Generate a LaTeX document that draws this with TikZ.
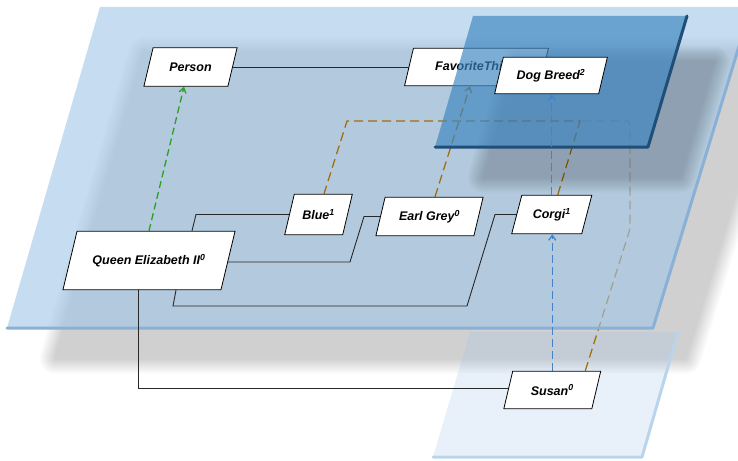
\documentclass[tikz,border=0pt]{standalone}
\usepackage{fontspec}
\setmainfont{Liberation Sans}
\usetikzlibrary{arrows.meta}

\definecolor{planeblue}{RGB}{160,197,230}
\definecolor{planeedge}{RGB}{138,176,214}
\definecolor{lowedge}{RGB}{186,212,236}
\definecolor{deepblue}{RGB}{61,134,193}
\definecolor{deepedge}{RGB}{31,78,121}
\definecolor{linkgreen}{RGB}{45,160,35}
\definecolor{linkbrown}{RGB}{160,108,15}
\definecolor{linkblue}{RGB}{68,130,200}
\definecolor{wire}{RGB}{40,40,40}

\pgfdeclarelayer{floor}
\pgfdeclarelayer{sheet}
\pgfdeclarelayer{wires}
\pgfdeclarelayer{cards}
\pgfdeclarelayer{upper}
\pgfdeclarelayer{upperwires}
\pgfdeclarelayer{uppercards}
\pgfdeclarelayer{uppertext}
\pgfsetlayers{floor,sheet,wires,cards,main,upper,upperwires,uppercards,uppertext}

\newcommand\cardfont{\fontsize{12.5}{15}\selectfont\bfseries\itshape}

% blurred shadow: stacked translucent copies with growing outline
\newcommand\softshadow[2]{%
  \foreach \r in {2,4,...,32}{%
    \begin{scope}[transparency group, opacity=#2]
      \filldraw[black, line width=\r pt, line join=round] #1;
    \end{scope}}}

% slanted card outline around a named node
\newcommand\cardshape[2]{%
  \filldraw[fill=white, draw=black, line width=0.8pt, line join=miter]
    ([xshift=#2, yshift=-0.4pt]#1.north west) -- ([xshift=-0.4pt, yshift=-0.4pt]#1.north east)
    -- ([xshift=-#2, yshift=0.4pt]#1.south east) -- ([xshift=0.4pt, yshift=0.4pt]#1.south west) -- cycle;}

\tikzset{
  card/.style 2 args={rectangle, inner sep=0pt, minimum width=#1, minimum height=#2, font=\cardfont},
  wireline/.style={draw=wire, line width=0.9pt},
  tip/.style={-{Straight Barb[length=5pt,width=7pt]}},
  greenlink/.style={draw=linkgreen, line width=1.3pt, dash pattern=on 7pt off 4pt, tip},
  brownlink/.style={draw=linkbrown, line width=1.25pt, dash pattern=on 9pt off 5pt},
  bluelink/.style={draw=linkblue, line width=1.3pt, dash pattern=on 8pt off 4pt, tip},
}

\begin{document}
\begin{tikzpicture}[x=1pt, y=-1pt]
\useasboundingbox (0,0) rectangle (738,460);

% ---- cards on the large plane
\node[card={93.6pt}{39pt}]  (person) at (190.5,67)   {Person};
\node[card={144.3pt}{38pt}] (fav)    at (476.5,67)   {FavoriteThing};
\node[card={68pt}{41pt}]    (blue)   at (318.5,214.5) {Blue\textsuperscript{1}};
\node[card={107.6pt}{39pt}] (earl)   at (429.5,216.5) {Earl Grey\textsuperscript{0}};
\node[card={80.5pt}{39pt}]  (corgi)  at (551.75,214.5) {Corgi\textsuperscript{1}};
\node[card={172.5pt}{59pt}] (queen)  at (149,260.5)  {Queen Elizabeth II\textsuperscript{0}};

% ---- cards above and below
\begin{pgfonlayer}{uppertext}
\node[card={113.1pt}{37pt}] (dog)   at (551,75.5)  {Dog Breed\textsuperscript{2}};
\node[card={97.3pt}{38pt}]  (susan) at (552.25,390) {Susan\textsuperscript{0}};
\end{pgfonlayer}

\begin{pgfonlayer}{cards}
\cardshape{person}{9.6pt}
\cardshape{fav}{9.3pt}
\cardshape{blue}{10pt}
\cardshape{earl}{9.6pt}
\cardshape{corgi}{10.5pt}
\cardshape{queen}{14.5pt}
\end{pgfonlayer}

\begin{pgfonlayer}{uppercards}
\cardshape{dog}{9.1pt}
\cardshape{susan}{9.3pt}
\end{pgfonlayer}

% ---- bottom: shadow of the large plane, the lower plane
\begin{pgfonlayer}{floor}
\softshadow{(144.2,53) -- (778.5,53) -- (685.4,358) -- (55.7,358) -- cycle}{0.0101}
\fill[planeblue, fill opacity=0.24] (470,332) -- (678,332) -- (642,457) -- (433,457) -- cycle;
\draw[lowedge, line width=3pt, line cap=round, line join=round] (678,332) -- (642,457) -- (433,457);
\coordinate (junction) at (580,121);
\draw[brownlink, rounded corners=3pt] ([xshift=33pt]susan.north) -- (630,229) -- (630,121) -- (junction);
\end{pgfonlayer}

% ---- the large plane
\begin{pgfonlayer}{sheet}
\fill[planeblue, fill opacity=0.6] (100,7) -- (751,7) -- (653,328) -- (7,328) -- cycle;
\draw[planeedge, line width=3pt, line cap=round, line join=round] (751,7) -- (653,328) -- (7,328);
\end{pgfonlayer}

% ---- connectors on the large plane
\begin{pgfonlayer}{wires}
\draw[wireline] (person.center) -- (fav.center);
\draw[wireline] ([xshift=43pt]queen.north) -- (196,214.5) -- (blue.center);
\draw[wireline] ([yshift=-1.5pt]queen.center) -- (350,262) -- (364,216.5) -- (earl.center);
\draw[wireline] ([xshift=27pt]queen.south) -- (173,306) -- (467,306) -- (495,214.5) -- (corgi.center);
\draw[wireline] ([xshift=-11pt]queen.south) -- (138,388) -- ([yshift=2pt]susan.center);
\draw[greenlink] (queen.north) -- ([xshift=-6.5pt]person.south);
\draw[brownlink, tip] ([xshift=5.5pt]earl.north) -- ([xshift=-6.5pt]fav.south);
\draw[brownlink] ([xshift=6pt]corgi.north) -- (junction) -- (347,121) -- ([xshift=5.5pt]blue.north);
\end{pgfonlayer}

% ---- the upper plane and its shadow
\begin{pgfonlayer}{upper}
\softshadow{(517,62) -- (714,62) -- (680,177) -- (483.7,177) -- cycle}{0.0116}
\fill[deepblue, fill opacity=0.67] (473,16) -- (687,16) -- (648,147) -- (435,147) -- cycle;
\draw[deepedge, line width=3pt, line cap=round, line join=round] (687,16) -- (648,147) -- (435,147);
\end{pgfonlayer}

% ---- instance links
\begin{pgfonlayer}{upperwires}
\draw[bluelink] (corgi.north) -- (corgi.north |- dog.south);
\draw[bluelink] (susan.north) -- (susan.north |- corgi.south);
\end{pgfonlayer}
\end{tikzpicture}
\end{document}
